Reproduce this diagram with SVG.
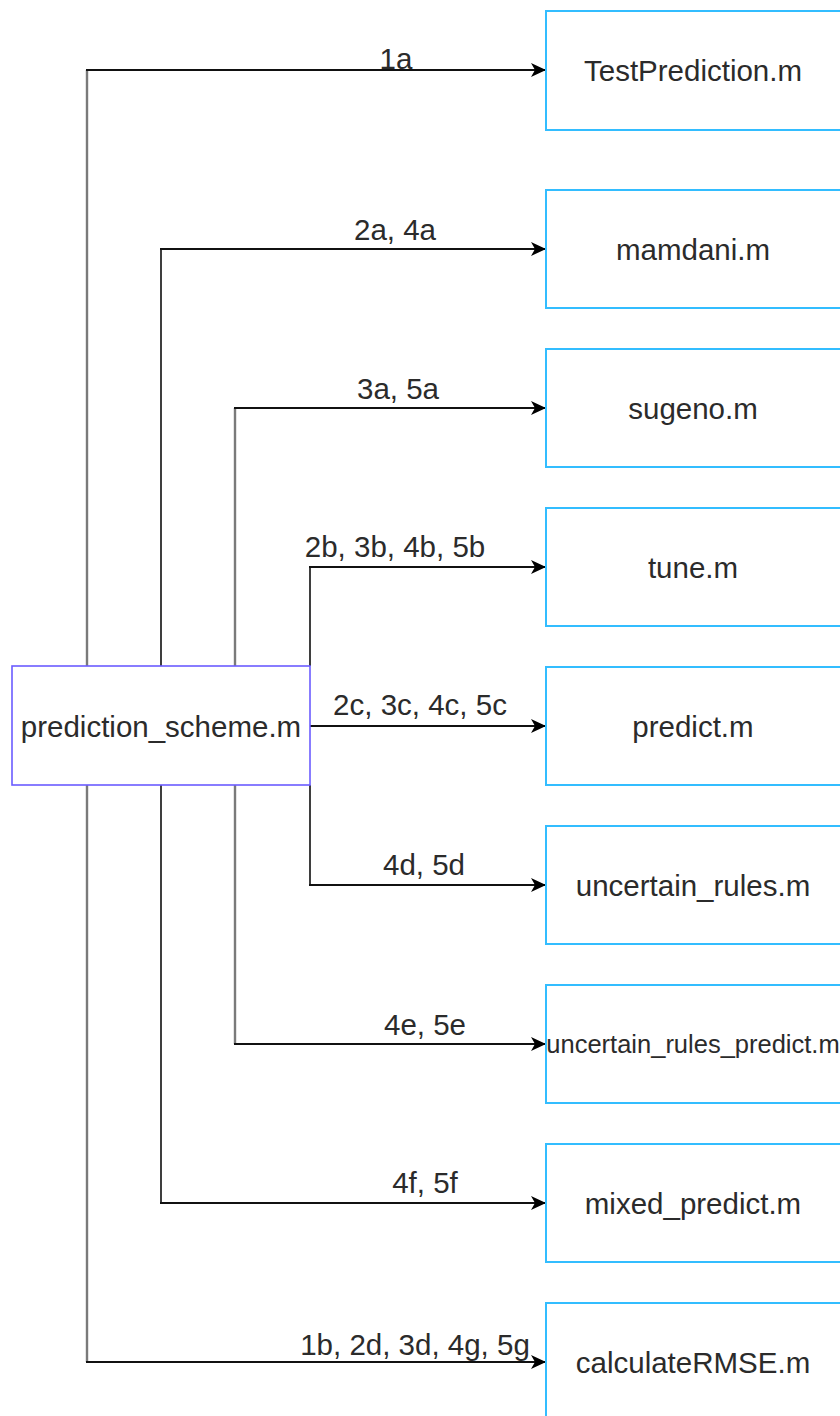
<svg xmlns="http://www.w3.org/2000/svg" width="840" height="1416" viewBox="0 0 840 1416">
  <defs>
    <style>
      .target rect { fill: #ffffff; stroke: #33bdff; stroke-width: 2; }
      .source rect { fill: #ffffff; stroke: #6b5cff; stroke-width: 1.6; }
      .node-text { font-family: "Liberation Sans", Arial, Helvetica, sans-serif; font-size: 29.5px; fill: #2b2b2b; text-anchor: middle; }
      .edge-label { font-family: "Liberation Sans", Arial, Helvetica, sans-serif; font-size: 29.5px; fill: #2b2b2b; text-anchor: middle; }
      .wire { fill: none; stroke: #111111; stroke-width: 2; }
      .trunk { fill: none; stroke: #7a7a7a; stroke-width: 2.4; }
      .trunk-dark { fill: none; stroke: #2a2a2a; stroke-width: 1.8; }
    </style>
    <marker id="arrow" viewBox="0 0 16 14" refX="15" refY="7" markerWidth="16" markerHeight="14" markerUnits="userSpaceOnUse" orient="auto">
      <path d="M15,7 L0,0 L4,7 L0,14 Z" fill="#000000"/>
    </marker>
  </defs>
  <rect x="0" y="0" width="840" height="1416" fill="#ffffff"/>

  <!-- connectors from prediction_scheme.m to each callee -->
  <g id="connectors">
    <!-- vertical trunks -->
    <path class="trunk" d="M87,666 V70"/>
    <path class="trunk-dark" d="M161,666 V249"/>
    <path class="trunk" d="M235,666 V408"/>
    <path class="trunk-dark" d="M310,666 V567"/>
    <path class="trunk-dark" d="M310,785 V885"/>
    <path class="trunk" d="M235,785 V1044"/>
    <path class="trunk-dark" d="M161,785 V1203"/>
    <path class="trunk" d="M87,785 V1362"/>

    <!-- horizontal runs with arrowheads -->
    <path class="wire" d="M86,70 H546" marker-end="url(#arrow)"/>
    <path class="wire" d="M160,249 H546" marker-end="url(#arrow)"/>
    <path class="wire" d="M234,408 H546" marker-end="url(#arrow)"/>
    <path class="wire" d="M309,567 H546" marker-end="url(#arrow)"/>
    <path class="wire" d="M310,726 H546" marker-end="url(#arrow)"/>
    <path class="wire" d="M309,885 H546" marker-end="url(#arrow)"/>
    <path class="wire" d="M234,1044 H546" marker-end="url(#arrow)"/>
    <path class="wire" d="M160,1203 H546" marker-end="url(#arrow)"/>
    <path class="wire" d="M86,1362 H546" marker-end="url(#arrow)"/>

    <!-- call-order labels -->
    <text class="edge-label" x="396" y="69">1a</text>
    <text class="edge-label" x="395" y="240">2a, 4a</text>
    <text class="edge-label" x="398" y="399">3a, 5a</text>
    <text class="edge-label" x="395" y="557">2b, 3b, 4b, 5b</text>
    <text class="edge-label" x="420" y="715">2c, 3c, 4c, 5c</text>
    <text class="edge-label" x="424" y="875">4d, 5d</text>
    <text class="edge-label" x="425" y="1035">4e, 5e</text>
    <text class="edge-label" x="425" y="1193">4f, 5f</text>
    <text class="edge-label" x="415" y="1355">1b, 2d, 3d, 4g, 5g</text>
  </g>

  <g id="prediction_scheme" class="source">
    <rect x="12" y="666" width="298" height="119"/>
    <text class="node-text" x="161" y="737">prediction_scheme.m</text>
  </g>

  <g id="TestPrediction" class="target">
    <rect x="546" y="11" width="300" height="119"/>
    <text class="node-text" x="693" y="81">TestPrediction.m</text>
  </g>
  <g id="mamdani" class="target">
    <rect x="546" y="190" width="300" height="118"/>
    <text class="node-text" x="693" y="260">mamdani.m</text>
  </g>
  <g id="sugeno" class="target">
    <rect x="546" y="349" width="300" height="118"/>
    <text class="node-text" x="693" y="419">sugeno.m</text>
  </g>
  <g id="tune" class="target">
    <rect x="546" y="508" width="300" height="118"/>
    <text class="node-text" x="693" y="578">tune.m</text>
  </g>
  <g id="predict" class="target">
    <rect x="546" y="667" width="300" height="118"/>
    <text class="node-text" x="693" y="737">predict.m</text>
  </g>
  <g id="uncertain_rules" class="target">
    <rect x="546" y="826" width="300" height="118"/>
    <text class="node-text" x="693" y="896">uncertain_rules.m</text>
  </g>
  <g id="uncertain_rules_predict" class="target">
    <rect x="546" y="985" width="300" height="118"/>
    <text class="node-text" x="693" y="1053" style="font-size:25.5px">uncertain_rules_predict.m</text>
  </g>
  <g id="mixed_predict" class="target">
    <rect x="546" y="1144" width="300" height="118"/>
    <text class="node-text" x="693" y="1214">mixed_predict.m</text>
  </g>
  <g id="calculateRMSE" class="target">
    <rect x="546" y="1303" width="300" height="130"/>
    <text class="node-text" x="693" y="1373">calculateRMSE.m</text>
  </g>
</svg>
